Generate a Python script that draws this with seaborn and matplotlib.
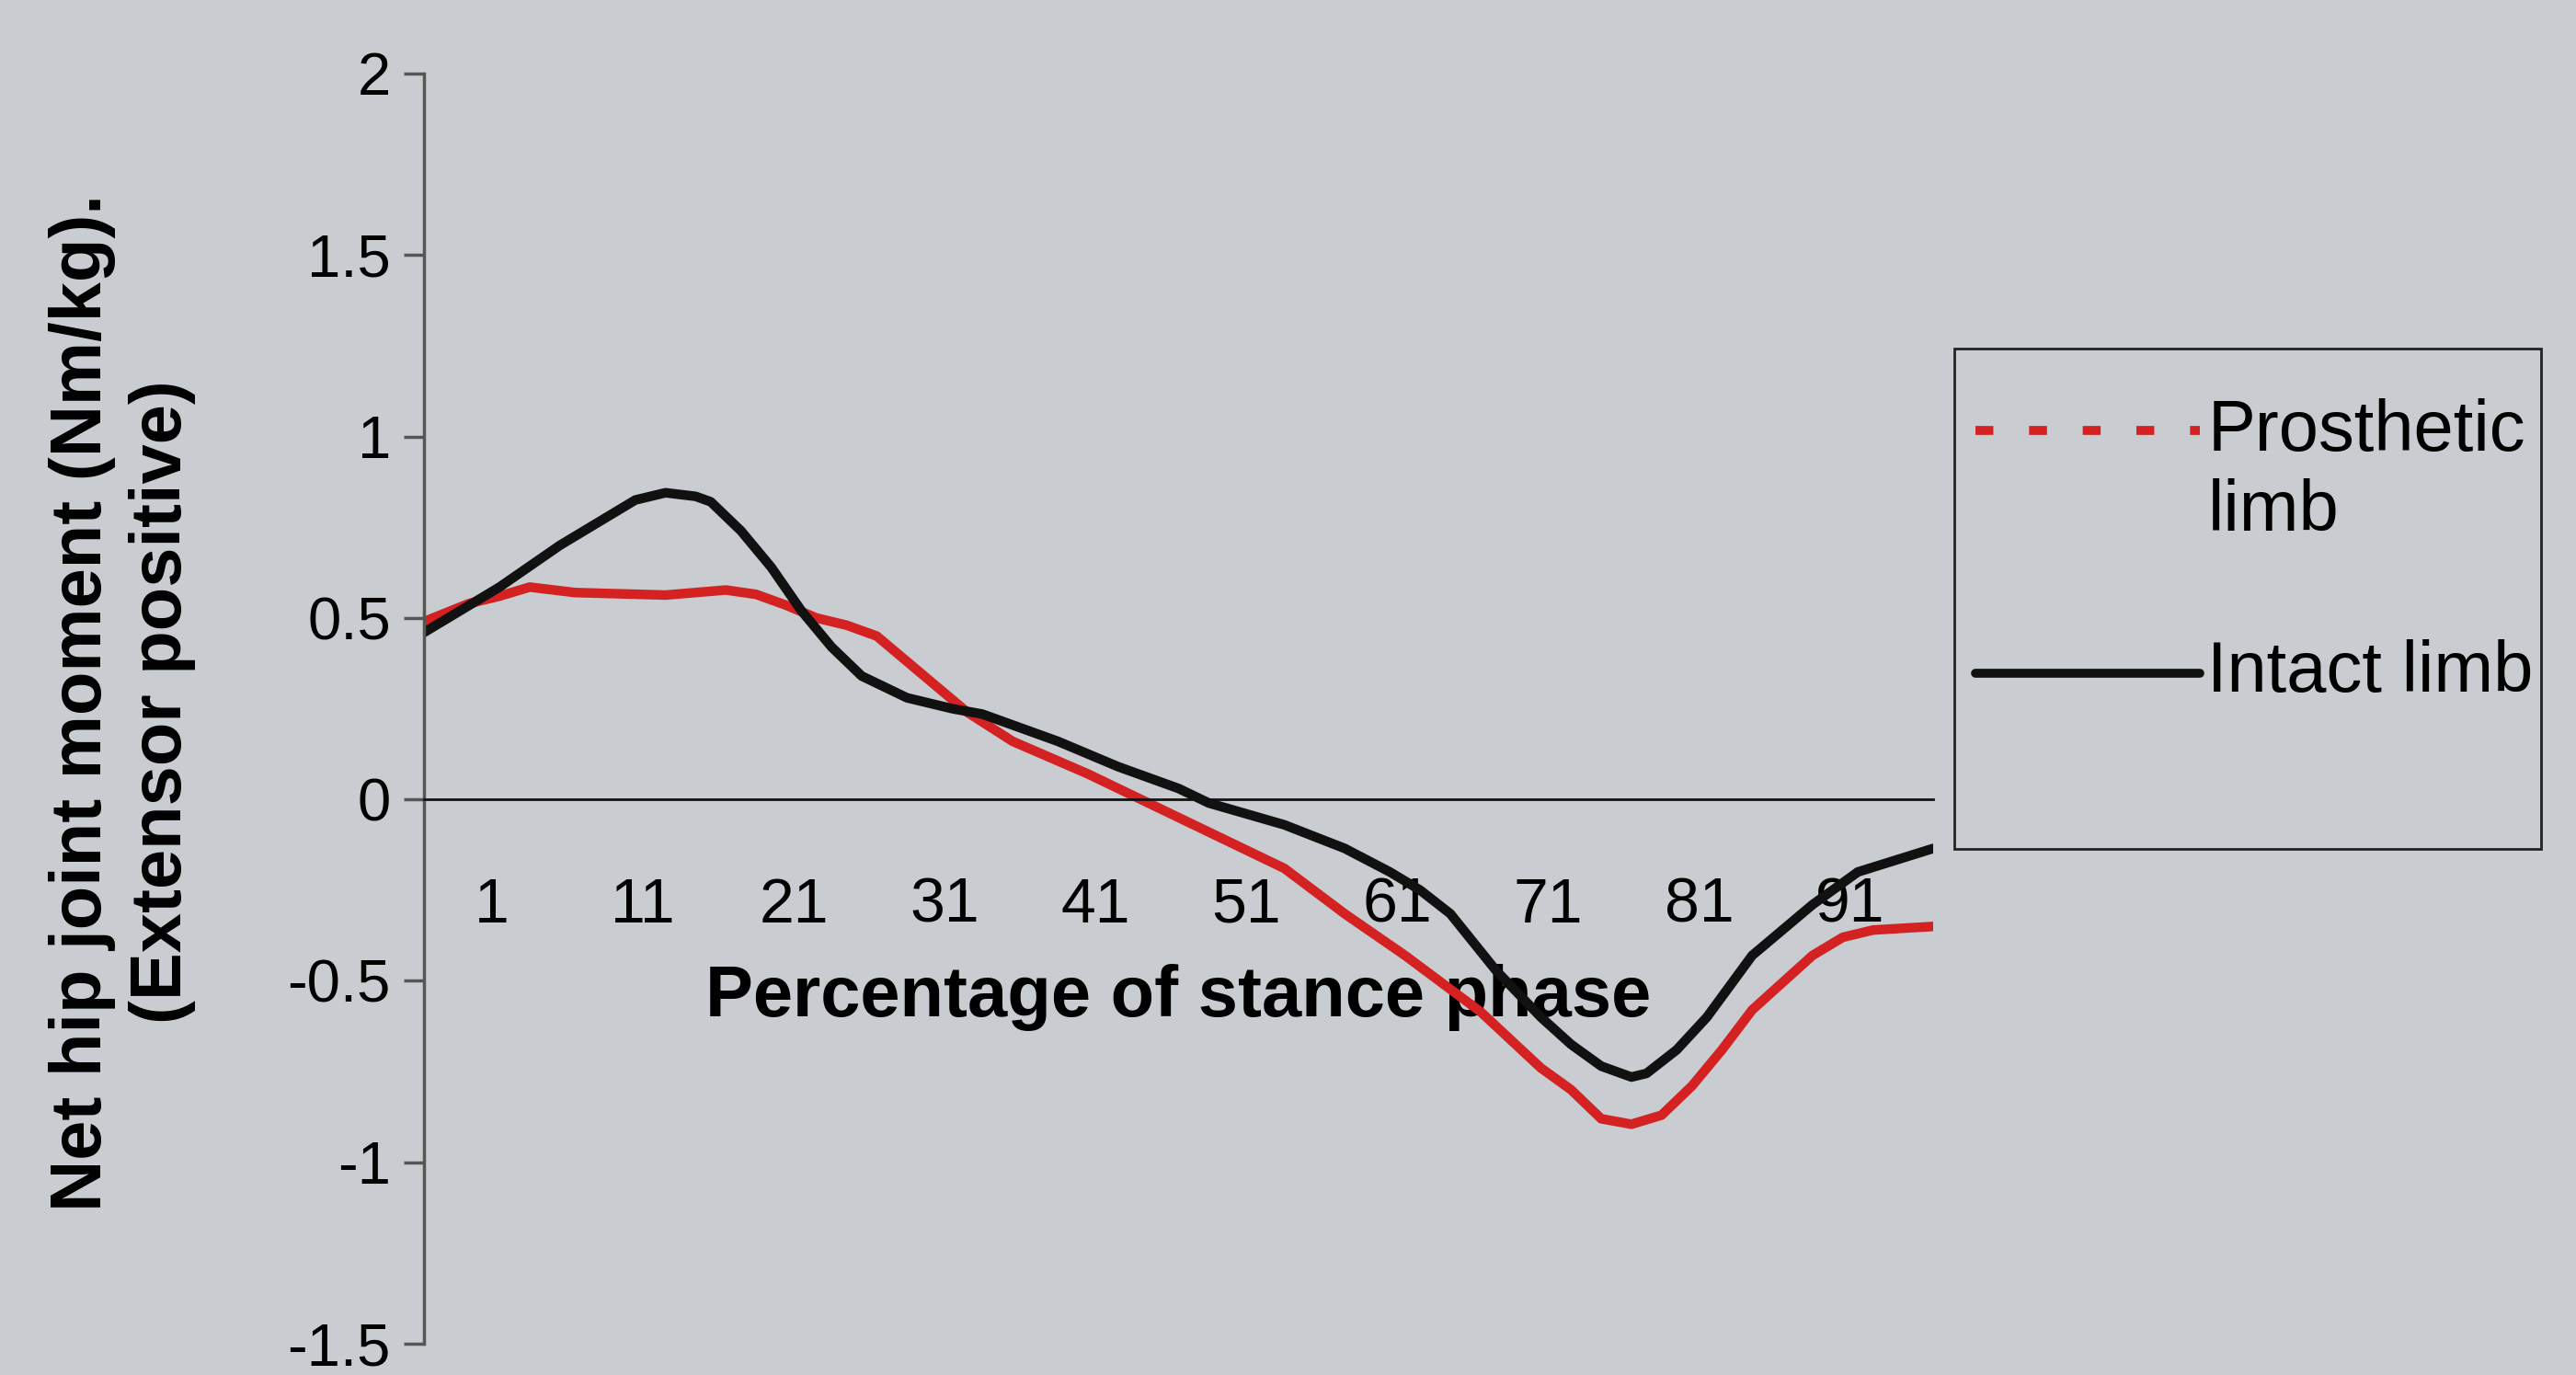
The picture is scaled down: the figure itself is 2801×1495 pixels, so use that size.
import numpy as np
import pandas as pd
import matplotlib
matplotlib.use("Agg")
import matplotlib.pyplot as plt
import seaborn as sns
from matplotlib.lines import Line2D
from matplotlib.patches import Rectangle

# ---- data ----
stance_intact = [1, 3, 6, 10, 13, 14, 15, 17, 19, 20, 22, 24, 26, 28, 30, 33, 36, 38,
                 43, 47, 51, 53, 58, 62, 65, 67, 69, 72, 75, 77, 79, 81, 82, 84, 86,
                 89, 93, 96, 101]
moment_intact = [0.46, 0.51, 0.585, 0.70, 0.775, 0.80, 0.825, 0.845, 0.835, 0.82, 0.74,
                 0.64, 0.52, 0.42, 0.34, 0.28, 0.25, 0.235, 0.16, 0.09, 0.03, -0.01,
                 -0.07, -0.135, -0.20, -0.25, -0.315, -0.47, -0.60, -0.675, -0.735,
                 -0.765, -0.755, -0.69, -0.60, -0.43, -0.29, -0.20, -0.135]

stance_prosthetic = [1, 4, 6, 8, 11, 17, 21, 23, 25, 27, 29, 31, 33, 35, 37, 40, 45,
                     49, 53, 58, 62, 66, 71, 75, 77, 79, 81, 83, 85, 87, 89, 93, 95,
                     97, 101]
moment_prosthetic = [0.49, 0.54, 0.56, 0.585, 0.57, 0.563, 0.577, 0.565, 0.535, 0.50,
                     0.48, 0.45, 0.38, 0.31, 0.24, 0.16, 0.07, -0.01, -0.09, -0.19,
                     -0.315, -0.43, -0.585, -0.74, -0.80, -0.88, -0.895, -0.87, -0.79,
                     -0.69, -0.58, -0.43, -0.38, -0.36, -0.35]

x_tick_labels = [1, 11, 21, 31, 41, 51, 61, 71, 81, 91]
y_tick_values = [2, 1.5, 1, 0.5, 0, -0.5, -1, -1.5]
y_tick_labels = ["2", "1.5", "1", "0.5", "0", "-0.5", "-1", "-1.5"]

BG = "#c9ccd0"
RED = "#d42222"
BLACK = "#111111"

df = pd.concat([
    pd.DataFrame({"Stance": stance_prosthetic, "Moment": moment_prosthetic, "Limb": "Prosthetic limb"}),
    pd.DataFrame({"Stance": stance_intact, "Moment": moment_intact, "Limb": "Intact limb"}),
])

sns.set_style("ticks")
plt.rcParams["font.family"] = ["Liberation Sans", "DejaVu Sans"]
plt.rcParams.update({"text.color": "black", "axes.labelcolor": "black",
                     "xtick.labelcolor": "black", "ytick.labelcolor": "black"})

fig = plt.figure(figsize=(28.01, 14.95), dpi=100, facecolor=BG)
ax = fig.add_axes([0.1646, 0.0227, 0.5859, 0.9238])
ax.set_facecolor(BG)

sns.lineplot(data=df, x="Stance", y="Moment", hue="Limb",
             palette={"Prosthetic limb": RED, "Intact limb": BLACK},
             linewidth=7.5, legend=False, ax=ax)

ax.set_xlim(1, 101)
ax.set_ylim(-1.5, 2)
ax.set_yticks(y_tick_values)
ax.set_yticklabels(y_tick_labels)
ax.set_xticks([v + 4.5 for v in x_tick_labels])
ax.set_xticklabels([str(v) for v in x_tick_labels])

ax.spines["top"].set_visible(False)
ax.spines["right"].set_visible(False)
ax.spines["bottom"].set_position(("data", 0))
ax.spines["bottom"].set_color("#111111")
ax.spines["bottom"].set_linewidth(2)
ax.spines["left"].set_color("#555555")
ax.spines["left"].set_linewidth(2.5)

ax.tick_params(axis="y", direction="out", length=16, width=2.5, color="#555555",
               labelsize=47, pad=10)
ax.tick_params(axis="x", length=0, labelsize=49, pad=60)

ax.set_xlabel("Percentage of stance phase", fontsize=56, fontweight="bold", va="center")
ax.xaxis.set_label_coords(0.5, 0.273)
ax.set_ylabel("Net hip joint moment (Nm/kg).\n(Extensor positive)", fontsize=56,
              fontweight="bold", va="center", linespacing=1.25)
ax.yaxis.set_label_coords(-0.20, 0.505)

# legend box drawn by hand (handle sits on the first line of a two-line label)
fig.add_artist(Rectangle((0.7587, 0.3826), 0.2278, 0.3639, transform=fig.transFigure,
                         fill=False, edgecolor="#222222", linewidth=2))
fig.add_artist(Line2D([0.767, 0.854], [0.687, 0.687], transform=fig.transFigure,
                      color=RED, linewidth=7, dashes=(2, 4)))
fig.text(0.857, 0.657, "Prosthetic\nlimb", fontsize=56, ha="left", va="center",
         linespacing=1.25)
fig.add_artist(Line2D([0.767, 0.854], [0.5104, 0.5104], transform=fig.transFigure,
                      color=BLACK, linewidth=7))
fig.text(0.857, 0.5104, "Intact limb", fontsize=56, ha="left", va="center")

fig.savefig("out.png", dpi=100, facecolor=BG)
